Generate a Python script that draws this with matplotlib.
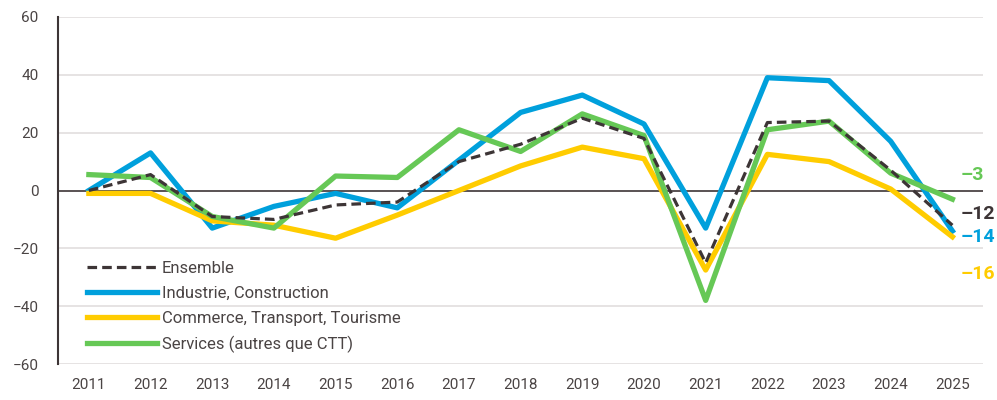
import matplotlib
matplotlib.use("Agg")
import matplotlib.pyplot as plt

years = list(range(2011, 2026))
ensemble = [0, 5.5, -9, -10, -5, -4, 10, 16, 25, 18, -25, 23.5, 24, 7, -12]
industrie = [0, 13, -13, -5.5, -1, -6, 10.5, 27, 33, 23, -13, 39, 38, 17, -14]
commerce = [-1, -1, -10.5, -12, -16.5, -8.5, 0, 8.5, 15, 11, -27.5, 12.5, 10, 0.5, -16]
services = [5.5, 4.5, -9, -13, 5, 4.5, 21, 13.5, 26.5, 19, -38, 21, 24, 6, -3]

end_labels = ["–3", "–12", "–14", "–16"]

c_dark = "#3d3536"
c_blue = "#00a0dc"
c_yellow = "#ffcc00"
c_green = "#66c856"
c_text = "#4a4444"

plt.rcParams['font.family'] = ['Roboto', 'DejaVu Sans']

fig = plt.figure(figsize=(9.97, 4.0), dpi=100)
ax = fig.add_axes([0.0582, 0.09, 0.928, 0.8675])

for y in range(-60, 61, 20):
    if y != 0:
        ax.axhline(y, color="#e2dede", lw=1.2, zorder=0)
ax.axhline(0, color=c_dark, lw=1.2, zorder=1)

ax.plot(years, ensemble, color=c_dark, lw=2.3, ls=(0, (3, 1.6)), label="Ensemble", zorder=3)
ax.plot(years, industrie, color=c_blue, lw=3.8, label="Industrie, Construction", zorder=2)
ax.plot(years, commerce, color=c_yellow, lw=3.8, label="Commerce, Transport, Tourisme", zorder=2)
ax.plot(years, services, color=c_green, lw=3.8, label="Services (autres que CTT)", zorder=2)

# end-of-line value labels
lab_pos = [(5.5, c_green), (-8, c_dark), (-16, c_blue), (-29, c_yellow)]
for txt, (ty, col) in zip(end_labels, lab_pos):
    ax.text(2025.14, ty, txt, color=col, fontsize=14, fontweight="bold", va="center", ha="left",
            family=['Liberation Sans Narrow', 'Roboto', 'DejaVu Sans'])

ax.set_xlim(2010.5, 2025.5)
ax.set_ylim(-60, 60)
ax.set_xticks(years)
ax.set_yticks(range(-60, 61, 20))
ax.tick_params(axis="both", length=0, labelsize=11, colors=c_text)
ax.tick_params(axis="x", pad=10)
ax.tick_params(axis="y", pad=14)
for sp in ["top", "right", "bottom"]:
    ax.spines[sp].set_visible(False)
ax.spines["left"].set_color(c_dark)
ax.spines["left"].set_linewidth(1.5)

leg = ax.legend(loc="lower left", bbox_to_anchor=(0.015, -0.012), frameon=False, fontsize=12,
                handlelength=4.2, handletextpad=0.3, labelspacing=0.6, labelcolor=c_text)

fig.savefig("out.png", dpi=100)
